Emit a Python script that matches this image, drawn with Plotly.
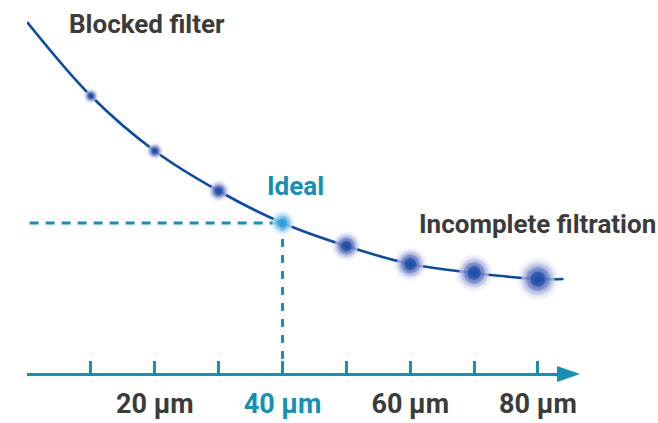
import plotly.graph_objects as go

# ---- data ----
pore_um = [0, 10, 20, 30, 40, 50, 60, 70, 80, 84]
pressure = [35.2, 27.8, 22.3, 18.3, 15.1, 12.8, 11.0, 10.1, 9.5, 9.5]
dot_x = [10, 20, 30, 40, 50, 60, 70, 80]
dot_y = [27.8, 22.3, 18.3, 15.1, 12.8, 11.0, 10.1, 9.5]
ideal_x = 40
ideal_y = 15.1
tick_vals = [10, 20, 30, 40, 50, 60, 70, 80]
tick_text = ["", "20 µm", "", "40 µm", "", "60 µm", "", "80 µm"]
labels = ["Blocked filter", "Ideal", "Incomplete filtration"]

# ---- styles ----
W, H = 658, 423
TEAL = "#1590b2"
DARK = "#0b4c9c"
GREY = "#3b3b3b"
FONT = "Roboto"
dot_sizes = [16, 18, 23, 27, 31, 35, 39, 44]

px_per_unit = 6.386
x_start_px = 27.1
x_end_px = 565
axis_px = 374
x_range = [0, (x_end_px - x_start_px) / px_per_unit]
y_scale = 10.0
y_range = [-(H - axis_px) / y_scale, axis_px / y_scale]

fig = go.Figure()

# dashed guide lines to the ideal point
fig.add_trace(go.Scatter(x=[0.4, ideal_x], y=[ideal_y, ideal_y], mode="lines",
                         line=dict(color=TEAL, width=3, dash="9px,7px"),
                         hoverinfo="skip", showlegend=False))
fig.add_trace(go.Scatter(x=[ideal_x, ideal_x], y=[ideal_y, 0], mode="lines",
                         line=dict(color=TEAL, width=3, dash="8px,8px"),
                         hoverinfo="skip", showlegend=False))

# curve
fig.add_trace(go.Scatter(x=pore_um, y=pressure, mode="lines",
                         line=dict(color=DARK, width=2.6, shape="spline", smoothing=1.0),
                         hoverinfo="skip", showlegend=False))

# glowing dots: white backing disc, then soft radial layers (edge colour -> centre colour)
halo_rgb = [(60, 85, 180) if x != ideal_x else (70, 170, 228) for x in dot_x]
core_rgb = [(8, 72, 155) if x != ideal_x else (15, 150, 212) for x in dot_x]
fig.add_trace(go.Scatter(x=dot_x, y=dot_y, mode="markers",
                         marker=dict(size=[s * 0.75 for s in dot_sizes], color="white",
                                     line=dict(width=0)),
                         hoverinfo="skip", showlegend=False))
layers = [(1.0, 0.0, 0.8, halo_rgb), (0.75, 0.1, 0.9, halo_rgb),
          (0.55, 0.35, 1.0, halo_rgb), (0.34, 0.7, 1.0, core_rgb)]
for frac, a_edge, a_centre, rgbs in layers:
    fig.add_trace(go.Scatter(
        x=dot_x, y=dot_y, mode="markers",
        marker=dict(size=[s * frac for s in dot_sizes],
                    color=[f"rgba({r},{g},{b},{a_edge})" for r, g, b in rgbs],
                    gradient=dict(type="radial",
                                  color=[f"rgba({r},{g},{b},{a_centre})" for r, g, b in rgbs]),
                    line=dict(width=0)),
        hoverinfo="skip", showlegend=False))

# annotations
fig.add_annotation(x=6.25, y=35.0, text=labels[0], showarrow=False, xanchor="left",
                   yanchor="middle", font=dict(family=FONT, size=26, color=GREY, weight="bold"))
fig.add_annotation(x=42.1, y=18.8, text=labels[1], showarrow=False, xanchor="center",
                   yanchor="middle", font=dict(family=FONT, size=26, color=TEAL, weight="bold"))
fig.add_annotation(x=61.1, y=15.0, text=labels[2], showarrow=False, xanchor="left",
                   yanchor="middle", font=dict(family=FONT, size=26, color=GREY, weight="bold"))

ticktext = [f'<span style="color:{TEAL}">{t}</span>' if v == ideal_x else t
            for v, t in zip(tick_vals, tick_text)]

ax_pos = (H - axis_px) / H
fig.update_layout(
    template="none",
    width=W, height=H, autosize=False, margin=dict(l=0, r=0, t=0, b=0, pad=0),
    paper_bgcolor="white", plot_bgcolor="white", showlegend=False,
    xaxis=dict(domain=[x_start_px / W, x_end_px / W], range=x_range,
               anchor="free", position=ax_pos, automargin=False,
               showline=True, linecolor=TEAL, linewidth=3,
               ticks="inside", ticklen=12, tickwidth=2.5, tickcolor=TEAL,
               tickvals=tick_vals, ticktext=ticktext, ticklabelstandoff=5,
               tickfont=dict(family=FONT, size=27, color=GREY, weight="bold"),
               showgrid=False, zeroline=False, fixedrange=True),
    yaxis=dict(domain=[0, 1], range=y_range, visible=False, showgrid=False,
               automargin=False, zeroline=False, fixedrange=True),
    shapes=[dict(type="path", xref="paper", yref="paper",
                 path=f"M {557/W} {ax_pos + 8/H} L {580/W} {ax_pos} L {557/W} {ax_pos - 8/H} Z",
                 fillcolor=TEAL, line=dict(width=0))],
)

fig.write_html("out.html", config={"displayModeBar": False, "responsive": False},
               post_script="document.documentElement.style.overflow='hidden';"
                           "document.body.style.margin='0';"
                           "document.body.style.overflow='hidden';")
